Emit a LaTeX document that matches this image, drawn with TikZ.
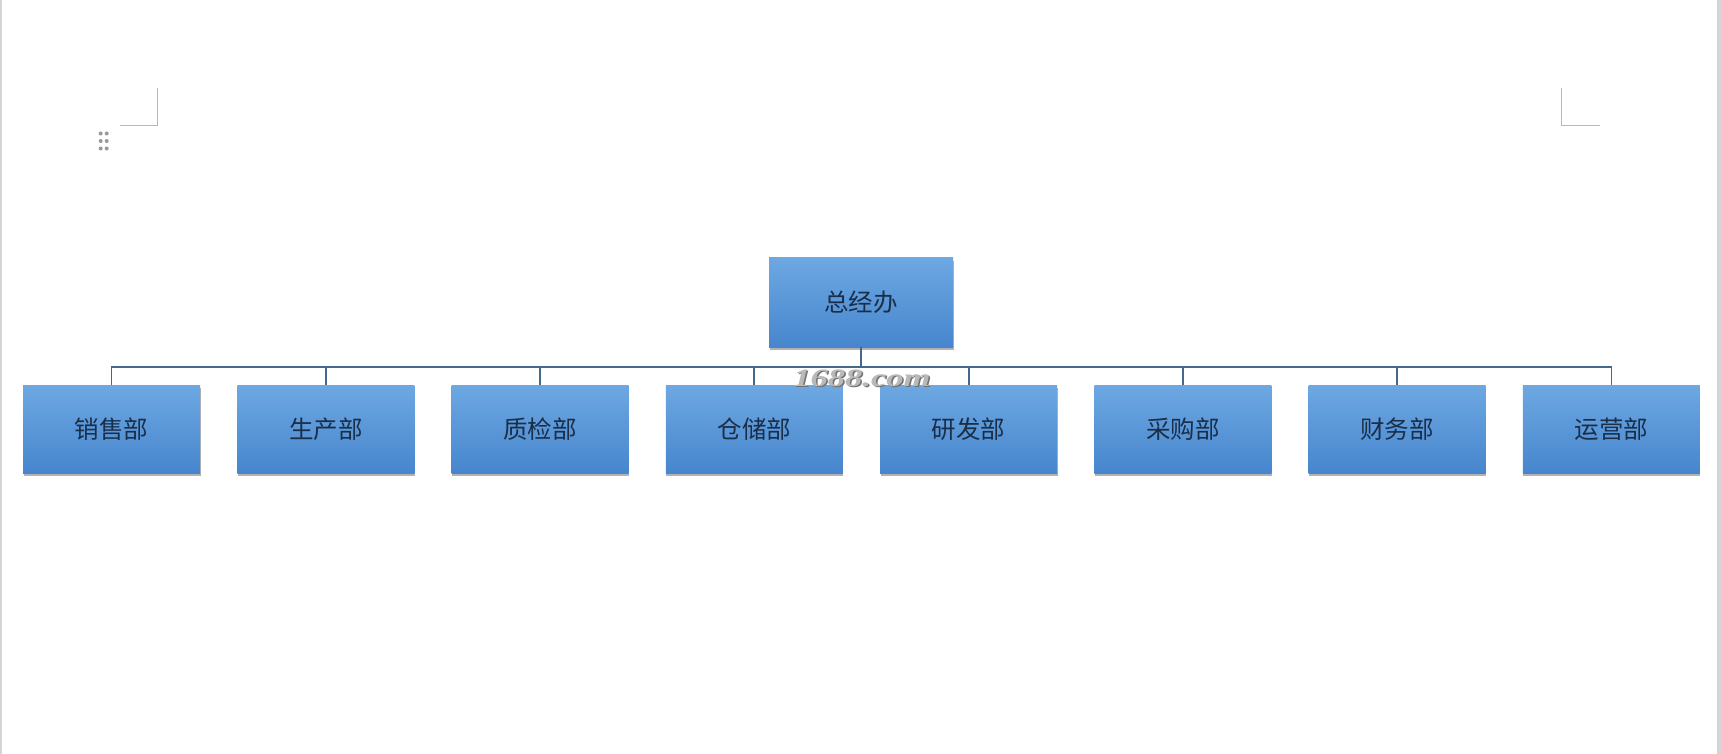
\documentclass[tikz,border=0pt]{standalone}
\usepackage{fontspec}
\newfontfamily\cjk{Noto Sans CJK SC}
\newfontfamily\wmfont{Liberation Serif}
\usetikzlibrary{shadows}
\definecolor{boxtop}{HTML}{6DA8E2}
\definecolor{boxbot}{HTML}{4786CE}
\definecolor{linec}{HTML}{46688A}
\definecolor{txt}{HTML}{1A2E48}
\definecolor{edgegray}{HTML}{D8D4D6}
\begin{document}
\begin{tikzpicture}[x=1pt,y=-1pt,
  dept/.style={draw=none, top color=boxtop, bottom color=boxbot,
    minimum width=177pt, minimum height=88pt, inner sep=0pt,
    font=\cjk\fontsize{24.5}{28}\selectfont, text=txt,
    drop shadow={shadow xshift=0.5pt, shadow yshift=-3pt, opacity=0.3, fill=black}},
  conn/.style={draw=linec, line width=1.8pt},
  cornermark/.style={draw=gray!55, line width=0.9pt},
  grip/.style={fill=gray!80, draw=none}]
\useasboundingbox (0,0) rectangle (1722,754);
\fill[white] (0,0) rectangle (1722,754);
\fill[edgegray] (0,0) rectangle (2,754);
\fill[edgegray] (1717,0) rectangle (1722,754);
% corner marks
\draw[cornermark] (120,125) -- (157,125) -- (157,88);
\draw[cornermark] (1561,88) -- (1561,125) -- (1600,125);
% grip dots
\foreach \gx in {100.7,106.7}
  \foreach \gy in {133.5,141,148.5}
    \fill[grip] (\gx,\gy) circle (2pt);
% nodes
\node[dept, minimum width=184pt, minimum height=89pt] (top) at (861,302.5) {总经办};
\foreach \i/\t [evaluate=\i as \xx using 111.5+214.28*(\i-1)] in
  {1/销售部,2/生产部,3/质检部,4/仓储部,5/研发部,6/采购部,7/财务部,8/运营部}
  \node[dept] (d\i) at (\xx,429) {\t};
% connectors
\foreach \i in {1,...,8}
  \draw[conn] (top.south) -- ++(0,20) -| (d\i.north);
% watermark
\node[text=gray!90!black, font=\wmfont\bfseries\itshape\fontsize{25}{28}\selectfont, xscale=1.38] (wm2) at (863.5,379.5) {1688.com};
\node[text=gray!55, font=\wmfont\bfseries\itshape\fontsize{25}{28}\selectfont, xscale=1.38] (wm) at (862,378) {1688.com};
\end{tikzpicture}
\end{document}
